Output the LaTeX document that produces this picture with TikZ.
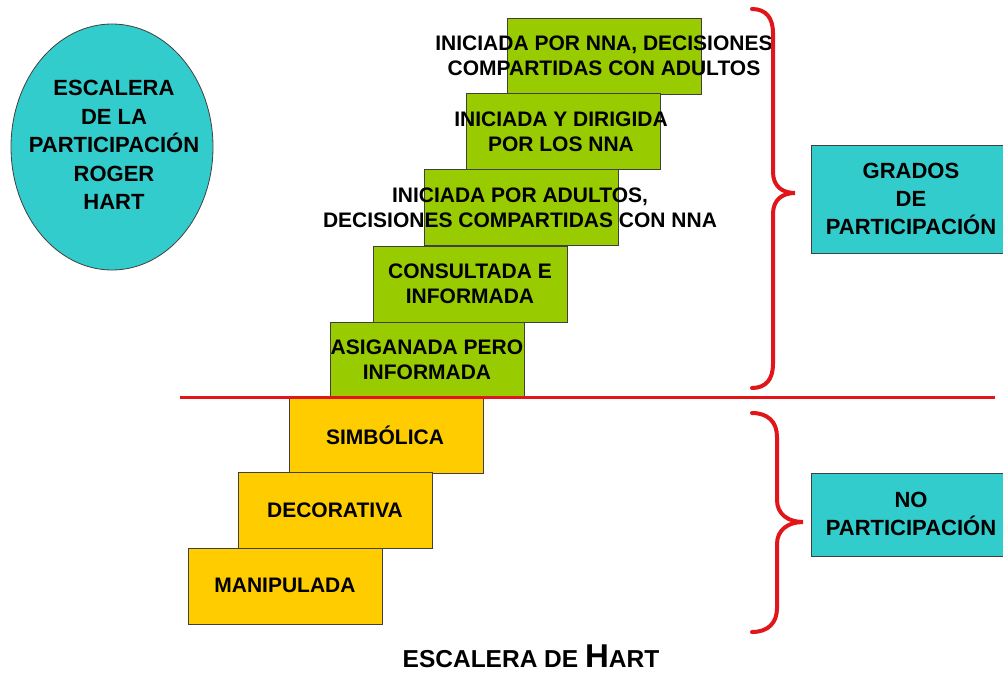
\documentclass[tikz,border=0pt]{standalone}
\usepackage{fontspec}
\setmainfont{Liberation Sans}
\usetikzlibrary{shapes.geometric}
\definecolor{stepgreen}{HTML}{99CC00}
\definecolor{stepyellow}{HTML}{FFCC00}
\definecolor{tealbox}{HTML}{33CCCC}
\definecolor{bracered}{HTML}{E0161B}
\definecolor{edgegray}{HTML}{404040}
\begin{document}
\begin{tikzpicture}[x=1pt,y=-1pt,
  stepbox/.style={draw=edgegray, line width=0.8pt, minimum width=194pt, minimum height=76pt, inner sep=0pt, anchor=north west},
  greenstep/.style={stepbox, fill=stepgreen},
  yellowstep/.style={stepbox, fill=stepyellow},
  steptext/.style={align=center, inner sep=0pt, font=\bfseries\fontsize{21}{25}\selectfont},
  sidebox/.style={draw=edgegray, line width=0.8pt, fill=tealbox, minimum width=200pt, inner sep=0pt},
  bracepath/.style={draw=bracered, line width=4pt, line cap=round},
  divider/.style={draw=bracered, line width=3pt}]
\useasboundingbox (0,0) rectangle (1003,685);

% title ellipse
\node[ellipse, draw=edgegray, line width=0.8pt, fill=tealbox, minimum width=202pt, minimum height=246pt, inner sep=0pt] (title) at (112,147) {};
\node[align=center, inner sep=0pt, font=\bfseries\fontsize{22}{28.5}\selectfont] (titletext) at (114,145) {ESCALERA\\DE LA\\PARTICIPACIÓN\\ROGER\\HART};

% green steps
\node[greenstep] (g1) at (507,18) {};
\node[greenstep] (g2) at (466,93) {};
\node[greenstep] (g3) at (424,169) {};
\node[greenstep] (g4) at (373,246) {};
\node[greenstep] (g5) at (330,322) {};

\node[steptext] (t1) at (604,56) {INICIADA POR NNA, DECISIONES\\COMPARTIDAS CON ADULTOS};
\node[steptext] (t2) at (561,132) {INICIADA Y DIRIGIDA\\POR LOS NNA};
\node[steptext] (t3) at (520,208) {INICIADA POR ADULTOS,\\DECISIONES COMPARTIDAS CON NNA};
\node[steptext] (t4) at (470,284) {CONSULTADA E\\INFORMADA};
\node[steptext] (t5) at (427,360) {ASIGANADA PERO\\INFORMADA};

% yellow steps
\node[yellowstep] (y1) at (289,397) {};
\node[yellowstep] (y2) at (238,472) {};
\node[yellowstep] (y3) at (188,548) {};

\node[steptext] (u1) at (385,435) {SIMBÓLICA};
\node[steptext] (u2) at (335,510) {DECORATIVA};
\node[steptext] (u3) at (285,585) {MANIPULADA};

% divider line
\coordinate (dl) at (180,397);
\coordinate (dr) at (995,397);
\draw[divider] (dl) -- (dr);

% braces
\coordinate (b1top) at (752,9);
\coordinate (b1tip) at (795,193);
\coordinate (b1bot) at (752,388);
\draw[bracepath] (b1top) .. controls (766,9) and (773,18) .. (773,33) -- (773,172)
  .. controls (773,186) and (782,193) .. (b1tip)
  .. controls (782,193) and (773,200) .. (773,214) -- (773,364)
  .. controls (773,379) and (766,388) .. (b1bot);

\coordinate (b2top) at (752,413);
\coordinate (b2tip) at (803,522);
\coordinate (b2bot) at (752,632);
\draw[bracepath] (b2top) .. controls (768,413) and (777,422) .. (777,437) -- (777,500)
  .. controls (777,514) and (788,522) .. (b2tip)
  .. controls (788,522) and (777,530) .. (777,544) -- (777,608)
  .. controls (777,623) and (768,632) .. (b2bot);

% side boxes
\node[sidebox, minimum height=108pt] (grados) at (911,199) {};
\node[steptext, font=\bfseries\fontsize{22}{28}\selectfont] (gradostext) at (911,199) {GRADOS\\DE\\PARTICIPACIÓN};
\node[sidebox, minimum height=83pt] (nopart) at (911,514.5) {};
\node[steptext, font=\bfseries\fontsize{22}{28}\selectfont] (noparttext) at (911,514) {NO\\PARTICIPACIÓN};

% caption
\node[anchor=base, inner sep=0pt, font=\bfseries] (caption) at (531,667) {\fontsize{24.5}{28}\selectfont ESCALERA DE \fontsize{33}{36}\selectfont H\fontsize{24.5}{28}\selectfont ART};
\end{tikzpicture}
\end{document}
